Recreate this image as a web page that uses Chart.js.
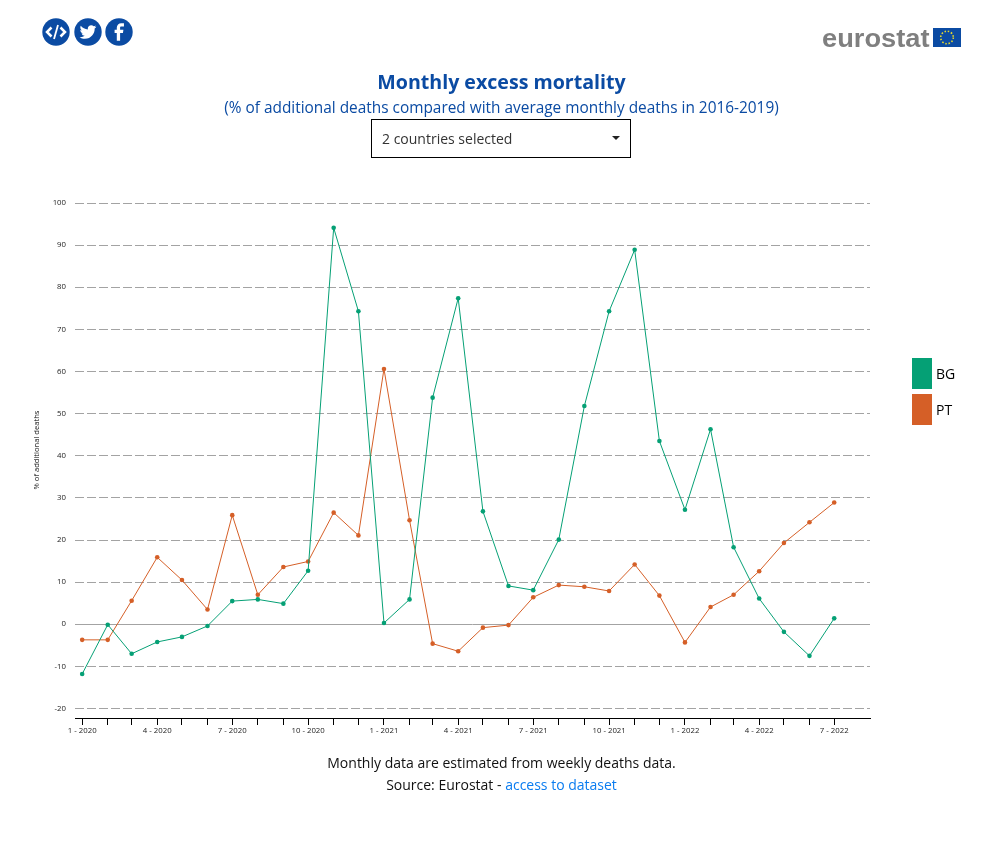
<!DOCTYPE html>
<html>
<head>
<meta charset="utf-8">
<title>Monthly excess mortality</title>
<script src="https://cdn.jsdelivr.net/npm/chart.js@4"></script>
<style>
  html, body { margin: 0; padding: 0; background: #fff; }
  body { position: relative; width: 999px; height: 857px; overflow: hidden; font-family: "Open Sans", sans-serif; color: #111; }
  #chart { position: absolute; left: 0; top: 0; }
  .abs { position: absolute; }
  h1, h2 { margin: 0; position: absolute; left: 0; width: 1003px; text-align: center; color: #0b4ba3; }
  h1 { top: 68px; font-size: 19.6px; line-height: 28px; font-weight: 700; }
  h2 { top: 97px; font-size: 15.4px; line-height: 22px; font-weight: 400; }
  #select { left: 371px; top: 119px; width: 258px; height: 37px; border: 1px solid #000; font-size: 14px; line-height: 38px; text-indent: 10px; color: #333; }
  #select i { position: absolute; left: 240px; top: 16px; border: 4.5px solid transparent; border-top: 4px solid #222; border-bottom: 0; }
  #yTitle { left: -4px; top: 445px; width: 80px; text-align: center; font-size: 7.6px; line-height: 10px; transform: rotate(-90deg); color: #222; white-space: nowrap; }
  #legend div { position: absolute; left: 912px; width: 60px; font-size: 14px; line-height: 31px; text-indent: 24px; color: #000; }
  #legend span { position: absolute; left: 0; top: 0; width: 20px; height: 31px; }
  #notes { left: 0; top: 752px; width: 1003px; text-align: center; font-size: 14px; line-height: 22px; }
  #notes a { color: #0a7cf0; text-decoration: none; }
  #logo { left: 822px; top: 22px; font: bold 25px "Liberation Sans", Arial, sans-serif; line-height: 32px; color: #7f7f7f; transform: scaleX(1.09); transform-origin: left center; }
</style>
</head>
<body>
<canvas id="chart" width="999" height="857"></canvas>

<svg class="abs" style="left:41px;top:17px" width="94" height="30" viewBox="0 0 94 30">
  <g fill="#0b4ba3">
    <circle cx="15" cy="15" r="13.7"/><circle cx="47" cy="15" r="13.7"/><circle cx="78" cy="15" r="13.7"/>
  </g>
  <g fill="none" stroke="#fff" stroke-width="2.5">
    <path d="M10.5 10.5l-4.5 4.5 4.5 4.5M19.5 10.5l4.5 4.5-4.5 4.5"/>
  </g>
  <path d="M17 8l-4 14" fill="none" stroke="#fff" stroke-width="1.8"/>
  <path transform="translate(37.4,5) scale(.8)" fill="#fff" d="M22.46 6c-.77.35-1.6.58-2.46.69.88-.53 1.56-1.37 1.88-2.38-.83.5-1.75.85-2.72 1.05C18.37 4.5 17.26 4 16 4c-2.35 0-4.27 1.92-4.27 4.29 0 .34.04.67.11.98C8.28 9.09 5.11 7.38 3 4.79c-.37.63-.58 1.37-.58 2.15 0 1.49.75 2.81 1.91 3.56-.71 0-1.37-.2-1.95-.5v.03c0 2.08 1.48 3.82 3.44 4.21a4.22 4.22 0 0 1-1.93.07 4.28 4.28 0 0 0 4 2.98 8.521 8.521 0 0 1-5.33 1.84c-.34 0-.68-.02-1.02-.06C3.44 20.29 5.7 21 8.12 21 16 21 20.33 14.46 20.33 8.79c0-.19 0-.37-.01-.56.84-.6 1.56-1.36 2.14-2.23z"/>
  <path transform="translate(64.8,.7) scale(1.1)" fill="#fff" d="M14 8h2.5V5H14c-2.2 0-4 1.8-4 4v2H8v3h2v7h3v-7h2.6l.4-3h-3V9c0-.6.4-1 1-1z"/>
</svg>

<div class="abs" id="logo">eurostat</div>
<svg class="abs" style="left:933px;top:28px" width="28" height="19" viewBox="0 0 28 19">
  <rect width="28" height="19" fill="#0b4ba3"/>
  <circle cx="14" cy="9.5" r="6.3" fill="none" stroke="#e6d92e" stroke-width="1.6" stroke-dasharray="1.5 1.8"/>
</svg>

<h1>Monthly excess mortality</h1>
<h2>(% of additional deaths compared with average monthly deaths in 2016-2019)</h2>
<div class="abs" id="select">2 countries selected<i></i></div>
<div class="abs" id="yTitle">% of additional deaths</div>
<div id="legend"></div>
<div class="abs" id="notes">
  Monthly data are estimated from weekly deaths data.<br>
  Source: Eurostat - <a href="#">access to dataset</a>
</div>

<script>
const months = [
  "1 - 2020", "2 - 2020", "3 - 2020", "4 - 2020", "5 - 2020", "6 - 2020", "7 - 2020", "8 - 2020", "9 - 2020", "10 - 2020", "11 - 2020", "12 - 2020",
  "1 - 2021", "2 - 2021", "3 - 2021", "4 - 2021", "5 - 2021", "6 - 2021", "7 - 2021", "8 - 2021", "9 - 2021", "10 - 2021", "11 - 2021", "12 - 2021",
  "1 - 2022", "2 - 2022", "3 - 2022", "4 - 2022", "5 - 2022", "6 - 2022", "7 - 2022",
];
const bgValues = [-11.8, -0.1, -7.0, -4.2, -3.0, -0.4, 5.5, 5.9, 4.9, 12.7, 94.1, 74.3,
  0.3, 5.9, 53.8, 77.4, 26.8, 9.1, 8.1, 20.1, 51.8, 74.3, 88.9, 43.5,
  27.2, 46.3, 18.3, 6.1, -1.8, -7.5, 1.4];
const ptValues = [-3.7, -3.7, 5.6, 15.9, 10.5, 3.5, 25.9, 7.0, 13.6, 14.9, 26.5, 21.1,
  60.6, 24.7, -4.6, -6.4, -0.8, -0.2, 6.4, 9.3, 8.9, 7.9, 14.2, 6.8,
  -4.3, 4.1, 7.0, 12.6, 19.3, 24.2, 28.9];
const yTicks = [-20, -10, 0, 10, 20, 30, 40, 50, 60, 70, 80, 90, 100];

const GREEN = "#05a075";
const ORANGE = "#d55f27";

// the original axis is a time axis, so months are placed by their day count
function dayOf(label) {
  const [m, y] = label.split(" - ").map(Number);
  return (Date.UTC(y, m - 1, 1) - Date.UTC(2020, 0, 1)) / 86400000;
}
const monthDays = months.map(dayOf);

function toPoints(values) {
  return values.map((v, i) => ({ x: monthDays[i], y: v }));
}

function lineDataset(label, values, color) {
  return {
    label,
    data: toPoints(values),
    borderColor: color,
    backgroundColor: color,
    borderWidth: 1,
    pointRadius: 2.3,
    pointBorderWidth: 0,
    tension: 0,
  };
}

const series = [lineDataset("BG", bgValues, GREEN), lineDataset("PT", ptValues, ORANGE)];

series.forEach((s, i) => {
  const row = document.createElement("div");
  row.style.top = (358 + i * 36) + "px";
  row.innerHTML = `<span style="background:${s.borderColor}"></span>${s.label}`;
  document.getElementById("legend").appendChild(row);
});

const tickFont = { family: "'Open Sans', sans-serif", size: 7.8 };

new Chart(document.getElementById("chart"), {
  type: "line",
  data: { datasets: series },
  options: {
    responsive: false,
    animation: false,
    layout: { padding: { left: 0, top: 203, right: 129, bottom: 109 } },
    plugins: { legend: { display: false }, title: { display: false }, tooltip: { enabled: false } },
    scales: {
      x: {
        type: "linear",
        min: -8.7,
        max: 955.4,
        afterBuildTicks: (scale) => { scale.ticks = monthDays.map((v) => ({ value: v })); },
        afterFit: (scale) => { scale.height = 30; },
        grid: { drawOnChartArea: false, drawTicks: true, tickLength: 7, tickColor: "#000", tickWidth: 1 },
        border: { color: "#000", width: 1 },
        ticks: {
          autoSkip: false,
          maxRotation: 0,
          minRotation: 0,
          padding: 1,
          color: "#222",
          font: tickFont,
          callback: (value) => {
            const i = monthDays.indexOf(value);
            return i % 3 === 0 ? months[i] : "";
          },
        },
      },
      y: {
        min: -22.25,
        max: 100,
        afterBuildTicks: (scale) => { scale.ticks = yTicks.map((v) => ({ value: v })); },
        afterFit: (scale) => { scale.width = 75; },
        grid: { drawTicks: false, color: "#a3a3a3", lineWidth: 1 },
        border: {
          display: false,
          dash: (ctx) => (ctx.tick && ctx.tick.value === 0 ? [] : [9, 3]),
        },
        ticks: { padding: 9, color: "#222", font: tickFont, callback: (value) => value },
      },
    },
  },
});
</script>
</body>
</html>
